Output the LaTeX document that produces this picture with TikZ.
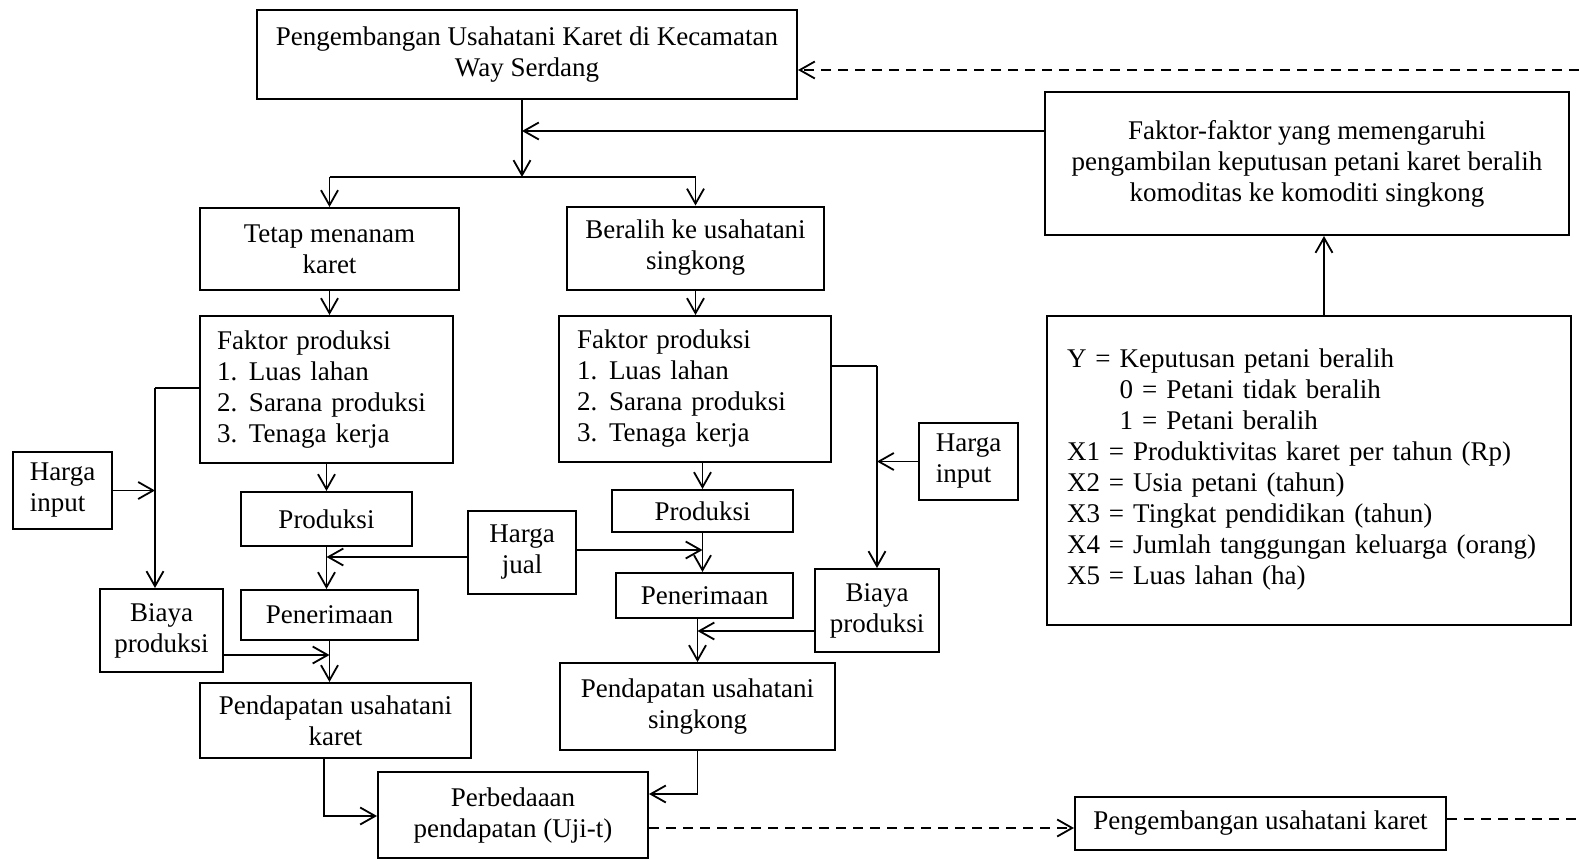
\documentclass[tikz,border=0pt]{standalone}
\usepackage{fontspec}
\setmainfont{Liberation Serif}
\usetikzlibrary{arrows.meta}
\begin{document}
\begin{tikzpicture}[x=1pt,y=-1pt,
  box/.style={draw, line width=2pt, inner sep=0pt, align=center, font=\fontsize{27}{31}\selectfont},
  lbox/.style={box, align=left},
  arr/.style={line width=1.8pt, -{Straight Barb[length=15pt,width=17pt,line width=1.8pt]}},
  thinline/.style={line width=1.1pt},
  dasharr/.style={line width=1.8pt, dash pattern=on 10pt off 7pt, -{Straight Barb[length=15pt,width=17pt,line width=1.8pt]}},
  dashline/.style={line width=1.8pt, dash pattern=on 10pt off 7pt}]
\useasboundingbox (0,0) rectangle (1579,859);

% nodes
\node[box, minimum width=540pt, minimum height=89pt] (top) at (527,54.5) {Pengembangan Usahatani Karet di Kecamatan\\Way Serdang};
\node[box, minimum width=524pt, minimum height=143pt] (ff) at (1307,163.5) {Faktor-faktor yang memengaruhi\\pengambilan keputusan petani karet beralih\\komoditas ke komoditi singkong};
\node[box, minimum width=259pt, minimum height=82pt] (tetap) at (329.5,249) {Tetap menanam\\karet};
\node[box, minimum width=257pt, minimum height=83pt] (beralih) at (695.5,248) {Beralih ke usahatani\\singkong};
\node[lbox, minimum width=253pt, minimum height=147pt, text width=219pt] (fpL) at (326.5,389.5) {Faktor produksi\\\makebox[32pt][l]{1.}Luas lahan\\\makebox[32pt][l]{2.}Sarana produksi\\\makebox[32pt][l]{3.}Tenaga kerja};
\node[lbox, minimum width=272pt, minimum height=146pt, text width=236pt] (fpR) at (695,389) {Faktor produksi\\\makebox[32pt][l]{1.}Luas lahan\\\makebox[32pt][l]{2.}Sarana produksi\\\makebox[32pt][l]{3.}Tenaga kerja};
\node[lbox, minimum width=99pt, minimum height=77pt] (hiL) at (62.5,490.5) {Harga\\input};
\node[box, minimum width=171pt, minimum height=54pt] (prodL) at (326.5,519) {Produksi};
\node[box, minimum width=108pt, minimum height=83pt] (hj) at (522,552.5) {Harga\\jual};
\node[box, minimum width=181pt, minimum height=42pt] (prodR) at (702.5,511) {Produksi};
\node[lbox, minimum width=99pt, minimum height=77pt] (hiR) at (968.5,461.5) {Harga\\input};
\node[box, minimum width=177pt, minimum height=50pt] (penL) at (329.5,615) {Penerimaan};
\node[box, minimum width=123pt, minimum height=83pt] (biL) at (161.5,630.5) {Biaya\\produksi};
\node[box, minimum width=177pt, minimum height=45pt] (penR) at (704.5,595.5) {Penerimaan};
\node[box, minimum width=124pt, minimum height=83pt] (biR) at (877,610.5) {Biaya\\produksi};
\node[box, minimum width=271pt, minimum height=75pt] (pdL) at (335.5,720.5) {Pendapatan usahatani\\karet};
\node[box, minimum width=275pt, minimum height=87pt] (pdR) at (697.5,706.5) {Pendapatan usahatani\\singkong};
\node[box, minimum width=270pt, minimum height=86pt] (perb) at (513,815) {Perbedaaan\\pendapatan (Uji-t)};
\node[box, minimum width=371pt, minimum height=53pt] (pk) at (1260.5,823.5) {Pengembangan usahatani karet};
\node[lbox, minimum width=524pt, minimum height=309pt, text width=484pt] (Y) at (1309,470) {Y = Keputusan petani beralih\\
\phantom{Y = }0 = Petani tidak beralih\\
\phantom{Y = }1 = Petani beralih\\
X1 = Produktivitas karet per tahun (Rp)\\
X2 = Usia petani (tahun)\\
X3 = Tingkat pendidikan (tahun)\\
X4 = Jumlah tanggungan keluarga (orang)\\
X5 = Luas lahan (ha)};

% helper coordinates
\coordinate (rE1) at (1579,70);
\coordinate (rE2) at (1579,819);
\coordinate (j1) at (522,131);
\coordinate (br) at (522,177);
\coordinate (vL) at (155,388);
\coordinate (cY) at (1324,0);
\coordinate (cP) at (324,0);

% connectors
\draw[dasharr] (rE1) -- (rE1 -| top.east);
\draw[arr] (ff.west |- j1) -- (j1);
\draw[arr] (j1 |- top.south) -- (br);
\draw[thinline] (tetap.north |- br) -- (beralih.north |- br);
\draw[arr] (tetap.north |- br) -- (tetap.north);
\draw[arr] (beralih.north |- br) -- (beralih.north);
\draw[arr] (tetap.south) -- (tetap.south |- fpL.north);
\draw[arr] (beralih.south) -- (beralih.south |- fpR.north);
\draw[arr] (fpL.south) -- (prodL.north);
\draw[arr] (prodL.south) -- (prodL.south |- penL.north);
\draw[arr] (hj.west |- 0,557) -- (prodL.south |- 0,557);
\draw[arr] (fpR.south -| prodR.north) -- (prodR.north);
\draw[arr] (prodR.south) -- (prodR.south |- penR.north);
\draw[arr] (hj.east |- 0,550) -- (prodR.south |- 0,550);
\draw[arr] (penR.south -| pdR.north) -- (pdR.north);
\draw[arr] (biR.west |- 0,631) -- (pdR.north |- 0,631);
\draw[thinline] (fpR.east |- 0,366) -- (biR.north |- 0,366);
\draw[arr] (biR.north |- 0,366) -- (biR.north);
\draw[arr] (hiR.west) -- (hiR.west -| biR.north);
\draw[thinline] (fpL.west |- vL) -- (vL);
\draw[arr] (vL) -- (vL |- biL.north);
\draw[arr] (hiL.east) -- (hiL.east -| vL);
\draw[arr] (biL.east |- 0,655) -- (penL.south |- 0,655);
\draw[arr] (penL.south) -- (penL.south |- pdL.north);
\draw[arr] (pdL.south -| cP) |- (perb.west |- 0,816);
\draw[arr] (pdR.south) |- (perb.east |- 0,794);
\draw[dasharr] (perb.east |- 0,828) -- (pk.west |- 0,828);
\draw[dashline] (pk.east |- rE2) -- (rE2);
\draw[arr] (Y.north -| cY) -- (ff.south -| cY);
\end{tikzpicture}
\end{document}
